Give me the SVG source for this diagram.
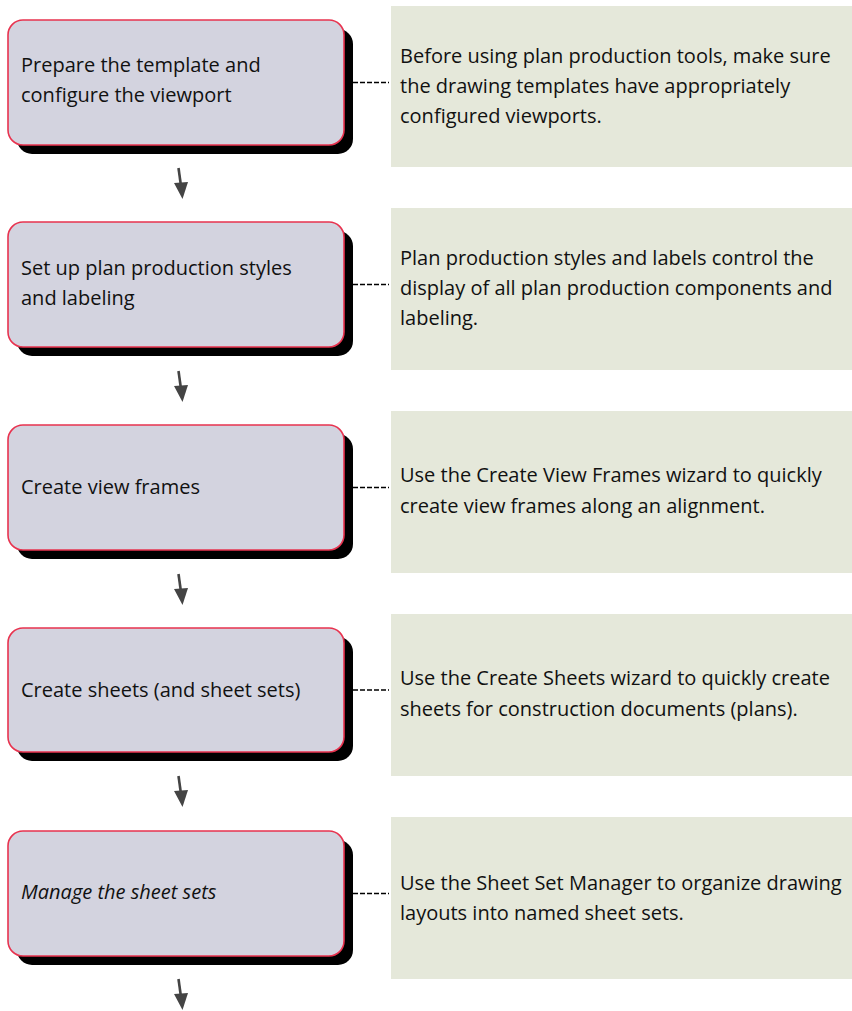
<svg xmlns="http://www.w3.org/2000/svg" width="852" height="1011" viewBox="0 0 852 1011">
<style>
.box{fill:#d3d3df;stroke:#e8334f;stroke-width:1.6}
.shadow{fill:#000}
.note{fill:#e5e8da}
.t{font-family:"Open Sans","Noto Sans",sans-serif;font-size:20px;fill:#111}
.i{font-style:italic}
.dash{stroke:#000;stroke-width:1.5;stroke-dasharray:5 2;fill:none}
.arr{fill:#444;stroke:none}
.shaft{stroke:#444;stroke-width:2.6;fill:none}
</style>
<defs>
<g id="arrow">
<line class="shaft" x1="178.5" y1="168" x2="181" y2="186"/>
<polygon class="arr" points="174,183 188,182 182.5,199"/>
</g>
</defs>
<g id="node1">
<rect class="shadow" x="17" y="29" width="336" height="125" rx="15"/>
<rect class="box" x="8" y="20" width="336" height="125" rx="15"/>
<text class="t" x="21" y="72">Prepare the template and</text>
<text class="t" x="21" y="102">configure the viewport</text>
</g>
<g id="note1">
<rect class="note" x="391" y="6" width="461" height="161"/>
<text class="t" x="400" y="63">Before using plan production tools, make sure</text>
<text class="t" x="400" y="93">the drawing templates have appropriately</text>
<text class="t" x="400" y="123">configured viewports.</text>
</g>
<g id="node2">
<rect class="shadow" x="17" y="231" width="336" height="125" rx="15"/>
<rect class="box" x="8" y="222" width="336" height="125" rx="15"/>
<text class="t" x="21" y="275">Set up plan production styles</text>
<text class="t" x="21" y="305">and labeling</text>
</g>
<g id="note2">
<rect class="note" x="391" y="208" width="461" height="162"/>
<text class="t" x="400" y="265">Plan production styles and labels control the</text>
<text class="t" x="400" y="295">display of all plan production components and</text>
<text class="t" x="400" y="325">labeling.</text>
</g>
<g id="node3">
<rect class="shadow" x="17" y="434" width="336" height="125" rx="15"/>
<rect class="box" x="8" y="425" width="336" height="125" rx="15"/>
<text class="t" x="21" y="494">Create view frames</text>
</g>
<g id="note3">
<rect class="note" x="391" y="411" width="461" height="162"/>
<text class="t" x="400" y="482">Use the Create View Frames wizard to quickly</text>
<text class="t" x="400" y="513">create view frames along an alignment.</text>
</g>
<g id="node4">
<rect class="shadow" x="17" y="637" width="336" height="124" rx="15"/>
<rect class="box" x="8" y="628" width="336" height="124" rx="15"/>
<text class="t" x="21" y="697">Create sheets (and sheet sets)</text>
</g>
<g id="note4">
<rect class="note" x="391" y="614" width="461" height="162"/>
<text class="t" x="400" y="685">Use the Create Sheets wizard to quickly create</text>
<text class="t" x="400" y="716">sheets for construction documents (plans).</text>
</g>
<g id="node5">
<rect class="shadow" x="17" y="840" width="336" height="125" rx="15"/>
<rect class="box" x="8" y="831" width="336" height="125" rx="15"/>
<text class="t i" x="21" y="899">Manage the sheet sets</text>
</g>
<g id="note5">
<rect class="note" x="391" y="817" width="461" height="162"/>
<text class="t" x="400" y="890">Use the Sheet Set Manager to organize drawing</text>
<text class="t" x="400" y="920">layouts into named sheet sets.</text>
</g>
<g id="connectors">
<line class="dash" x1="353" y1="82.5" x2="389" y2="82.5"/>
<line class="dash" x1="353" y1="284.5" x2="389" y2="284.5"/>
<line class="dash" x1="353" y1="487.5" x2="389" y2="487.5"/>
<line class="dash" x1="353" y1="690" x2="389" y2="690"/>
<line class="dash" x1="353" y1="893.5" x2="389" y2="893.5"/>
<use href="#arrow"/>
<use href="#arrow" transform="translate(0,203)"/>
<use href="#arrow" transform="translate(0,406)"/>
<use href="#arrow" transform="translate(0,608)"/>
<use href="#arrow" transform="translate(0,811)"/>
</g>
</svg>
